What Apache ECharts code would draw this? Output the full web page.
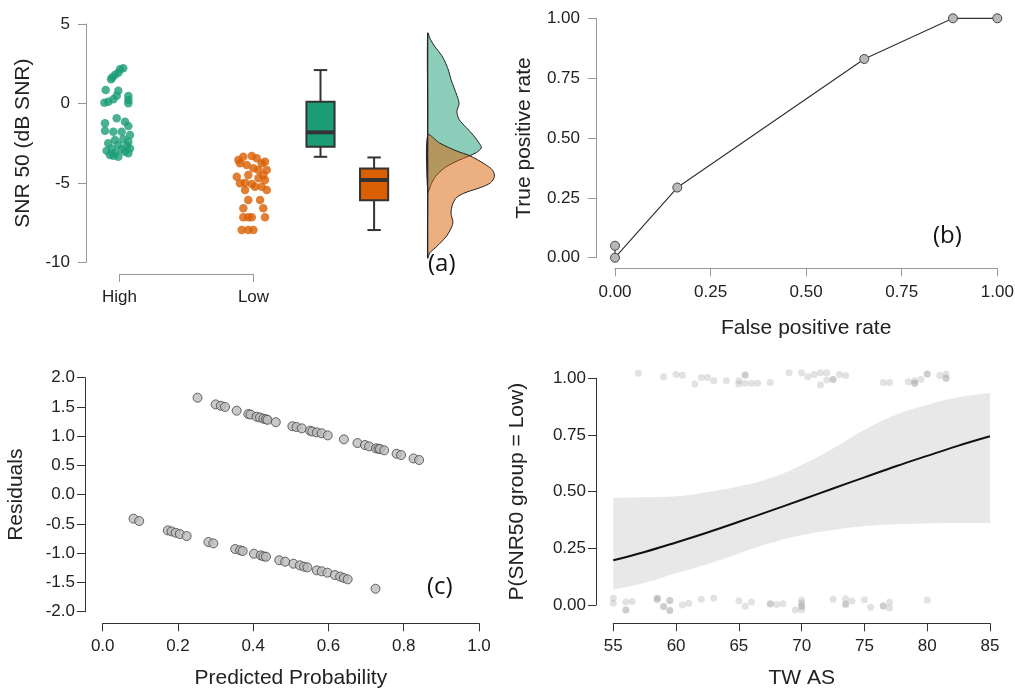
<!DOCTYPE html>
<html><head><meta charset="utf-8">
<script src="https://cdn.jsdelivr.net/npm/echarts@6/dist/echarts.min.js"></script>
<style>html,body{margin:0;padding:0;background:#fff}#c{width:1015px;height:690px}</style>
</head><body><div id="c"></div>
<script>
// ---------- Panel (a) data ----------
const groupCategories = ['High', 'Low'];
const highPoints = [
 [1.028,2.21],[1.004,2.15],[0.991,1.93],[0.966,1.79],[0.946,1.64],[0.937,1.52],
 [0.897,0.84],[0.991,0.80],[0.979,0.48],[0.954,0.26],[0.916,0.11],[0.887,0.04],[1.066,0.47],[1.066,0.21],[1.066,0.01],
 [0.979,-0.94],[0.892,-1.25],[1.041,-1.15],[1.066,-1.42],[0.892,-1.72],[0.954,-1.78],[1.016,-1.78],[1.078,-1.99],
 [0.966,-2.30],[1.028,-2.26],[1.066,-2.41],[0.916,-2.51],[0.991,-2.62],[1.054,-2.68],[0.942,-2.83],[1.016,-2.89],
 [1.078,-2.83],[0.904,-2.98],[0.966,-3.10],[1.041,-3.04],[0.929,-3.25],[0.991,-3.35],[1.066,-3.14],[0.954,-3.30]
];
const lowPoints = [
 [1.924,-3.35],[1.987,-3.31],[2.024,-3.45],[2.086,-3.67],[1.899,-3.77],[1.949,-3.88],[1.999,-4.08],[2.037,-4.19],
 [2.099,-4.19],[1.961,-4.51],[2.073,-4.51],[1.899,-5.03],[1.937,-4.99],[1.987,-5.07],[2.011,-5.24],[2.061,-5.24],
 [2.086,-4.82],[1.961,-6.08],[2.049,-6.08],[1.924,-6.60],[2.073,-6.60],[1.924,-7.17],[1.961,-7.17],[1.987,-7.17],
 [2.086,-7.17],[1.912,-7.97],[1.961,-7.97],[1.999,-7.97],[1.887,-3.56],[2.061,-3.77],[1.875,-4.61],[2.037,-4.71],
 [1.937,-5.45],[2.099,-5.45]
];
// [position, min, q1, median, q3, max]
const highBox = [2.5, -3.36, -2.73, -1.82, 0.10, 2.10];
const lowBox  = [2.9, -7.97, -6.10, -4.82, -4.09, -3.40];
// density: [SNR, density]
const densityHigh = [
 [4.43,0],[4.0,0.011],[3.5,0.030],[3.0,0.053],[2.5,0.068],[2.0,0.079],[1.5,0.087],[1.0,0.098],[0.5,0.109],
 [0.0,0.117],[-0.5,0.109],[-1.0,0.117],[-1.5,0.143],[-2.0,0.170],[-2.5,0.192],[-2.8,0.200],[-3.1,0.181],
 [-3.3,0.155],[-3.6,0.113],[-4.0,0.068],[-4.5,0.034],[-5.0,0.015],[-5.6,0]
];
const densityLow = [
 [-1.99,0],[-2.5,0.045],[-3.0,0.109],[-3.3,0.158],[-3.8,0.211],[-4.2,0.242],[-4.6,0.249],[-5.0,0.234],
 [-5.3,0.196],[-5.6,0.143],[-5.9,0.109],[-6.3,0.094],[-6.9,0.087],[-7.5,0.094],[-8.0,0.083],[-8.4,0.068],
 [-9.0,0.034],[-9.4,0.008],[-9.73,0]
];
const densityBase = 3.3;

// ---------- Panel (b) data ----------
const fpr = [0, 0, 0.163, 0.652, 0.884, 1.0];
const tpr = [0.05, 0, 0.293, 0.830, 1.0, 1.0];

// ---------- Panel (c) data ----------
const residUpper = [
 [0.252,1.658],[0.300,1.544],[0.314,1.52],[0.325,1.50],[0.356,1.436],[0.387,1.379],[0.393,1.37],[0.409,1.333],
 [0.418,1.32],[0.427,1.30],[0.434,1.29],[0.438,1.28],[0.460,1.24],[0.504,1.17],[0.515,1.157],[0.529,1.134],
 [0.551,1.094],[0.557,1.08],[0.569,1.065],[0.582,1.05],[0.598,1.014],[0.641,0.946],[0.677,0.883],[0.697,0.849],
 [0.708,0.826],[0.726,0.792],[0.733,0.786],[0.737,0.78],[0.748,0.758],[0.781,0.70],[0.793,0.678],[0.826,0.62],[0.841,0.593]
];
const residLower = [
 [0.082,-0.41],[0.097,-0.45],[0.173,-0.61],[0.183,-0.627],[0.194,-0.65],[0.205,-0.672],[0.223,-0.707],[0.281,-0.809],
 [0.294,-0.832],[0.352,-0.929],[0.365,-0.95],[0.372,-0.963],[0.402,-1.009],[0.420,-1.037],[0.427,-1.054],[0.434,-1.06],
 [0.469,-1.12],[0.485,-1.145],[0.507,-1.18],[0.524,-1.208],[0.535,-1.23],[0.544,-1.242],[0.569,-1.293],[0.582,-1.31],
 [0.597,-1.333],[0.617,-1.373],[0.631,-1.40],[0.641,-1.424],[0.651,-1.447],[0.725,-1.607]
];

// ---------- Panel (d) data ----------
const twas    = [55, 57.5, 60, 62.5, 65, 67.5, 70, 72.5, 75, 77.5, 80, 82.5, 85];
const fitted  = [0.197,0.234,0.276,0.320,0.367,0.415,0.464,0.514,0.563,0.612,0.658,0.703,0.744];
const ciLower = [0.068,0.098,0.140,0.180,0.227,0.273,0.308,0.331,0.347,0.356,0.360,0.362,0.362];
const ciUpper = [0.472,0.475,0.480,0.499,0.523,0.560,0.618,0.690,0.773,0.838,0.882,0.916,0.935];
const obsLowGroup = [
 [57,1.022],[59,1.007],[60,1.017],[60.5,1.013],[61.5,0.975],[62,1.004],[62.5,1.004],[63,0.989],[64,0.989],
 [65,0.989],[65,0.975],[65.5,1.015],[65.5,1.015],[65.5,0.978],[66,0.978],[66.5,0.978],[67.5,0.982],[69,1.025],
 [70,1.025],[70.5,1.007],[71,1.017],[71.5,1.025],[72,1.025],[71.5,0.970],[72,0.993],[72.5,0.995],[72.5,0.995],
 [73,1.017],[73.5,1.012],[76.5,0.982],[77,0.982],[78.5,0.985],[79,0.978],[79,0.978],[79,0.989],[79.5,0.995],
 [80,1.019],[80,1.019],[81,1.012],[81.5,1.019],[81.5,1.0],[81.5,1.0]
];
const obsHighGroup = [
 [55,0.030],[55,0.008],[56,0.013],[56,-0.022],[56,-0.022],[56.5,0.015],[58.5,0.030],[58.5,0.030],[58.5,0.022],
 [59,-0.007],[59,-0.007],[59.5,0.020],[59.5,0.020],[59.5,-0.024],[59.5,-0.024],[60.5,0.0],[61,0.008],[62,0.025],[63,0.030],
 [65,0.019],[65.5,-0.006],[66,0.013],[67.5,0.006],[67.5,0.004],[68,0.002],[68.5,0.006],[69.5,-0.022],[70,0.022],
 [70,0.009],[70,-0.004],[70,-0.006],[70,-0.022],[72.5,0.025],[73.5,0.028],[73.5,0.004],[73.5,0.002],[74,0.018],
 [75,0.023],[75.5,-0.010],[76.5,-0.005],[76.5,-0.003],[77,0.012],[77,-0.013],[80,0.022]
];

// ---------- build ----------
const FONT = 'Liberation Sans, Arial, sans-serif';
const TXT = '#222';
const GREEN = '#1b9e77', ORANGE = '#d95f02';
const zip = (a, b) => a.map((v, i) => [v, b[i]]);

function axisStyle(lineColor, fontSize, margin, formatter) {
  const lab = { color: TXT, fontSize: fontSize, fontFamily: FONT, margin: margin };
  if (formatter) lab.formatter = formatter;
  return {
    axisLine: { show: true, onZero: false, lineStyle: { color: lineColor, width: 1 } },
    axisTick: { show: true, length: 8, alignWithLabel: true, lineStyle: { color: lineColor, width: 1 } },
    axisLabel: lab,
    splitLine: { show: false },
    nameTextStyle: { color: TXT, fontSize: 21, fontFamily: FONT }
  };
}

function boxRender(color) {
  return function (params, api) {
    const x = api.value(0);
    const lo = api.coord([x, api.value(1)]);
    const q1 = api.coord([x, api.value(2)]);
    const md = api.coord([x, api.value(3)]);
    const q3 = api.coord([x, api.value(4)]);
    const hi = api.coord([x, api.value(5)]);
    const hw = api.size([0.21, 0])[0] / 2;
    const cw = api.size([0.1, 0])[0] / 2;
    const ls = { stroke: '#333', lineWidth: 2 };
    return { type: 'group', children: [
      { type: 'line', shape: { x1: lo[0], y1: lo[1], x2: lo[0], y2: q1[1] }, style: ls },
      { type: 'line', shape: { x1: hi[0], y1: hi[1], x2: hi[0], y2: q3[1] }, style: ls },
      { type: 'line', shape: { x1: lo[0] - cw, y1: lo[1], x2: lo[0] + cw, y2: lo[1] }, style: ls },
      { type: 'line', shape: { x1: hi[0] - cw, y1: hi[1], x2: hi[0] + cw, y2: hi[1] }, style: ls },
      { type: 'rect', shape: { x: q3[0] - hw, y: q3[1], width: 2 * hw, height: q1[1] - q3[1] },
        style: { fill: color, stroke: '#333', lineWidth: 2 } },
      { type: 'line', shape: { x1: md[0] - hw, y1: md[1], x2: md[0] + hw, y2: md[1] },
        style: { stroke: '#333', lineWidth: 4 } }
    ]};
  };
}

function densRender(dens, fill) {
  return function (params, api) {
    const scale = 2.0;
    const pts = dens.map(d => api.coord([densityBase + d[1] * scale, d[0]]));
    const mid = api.coord([densityBase, (dens[0][0] + dens[dens.length - 1][0]) / 2]);
    return { type: 'polygon', shape: { points: pts.concat([mid]), smooth: 0.3 },
        style: { fill: fill, stroke: '#222', lineWidth: 1 } };
  };
}

function baseRender(params, api) {
  const t = api.coord([densityBase, 4.41]);
  const b = api.coord([densityBase, -9.75]);
  return { type: 'line', shape: { x1: t[0], y1: t[1], x2: b[0], y2: b[1] }, style: { stroke: '#222', lineWidth: 1.2 } };
}

const option = {
  animation: false,
  backgroundColor: '#fff',
  grid: [
    { left: 86, top: 24, width: 435.5, height: 238.3, outerBoundsMode: 'none' },
    { left: 119.5, top: 24, width: 134, height: 250, outerBoundsMode: 'none' },
    { left: 615, top: 18.3, width: 382.3, height: 239.4, outerBoundsMode: 'none' },
    { left: 102.7, top: 377.7, width: 376.3, height: 234, outerBoundsMode: 'none' },
    { left: 613.3, top: 378.3, width: 376.7, height: 226.7, outerBoundsMode: 'none' }
  ],
  xAxis: [
    { gridIndex: 0, type: 'value', min: 0.75, max: 4.0, show: false },
    Object.assign({ gridIndex: 1, type: 'category', data: groupCategories, boundaryGap: false, position: 'bottom' },
      axisStyle('#999', 17, 15)),
    Object.assign({ gridIndex: 2, type: 'value', min: 0, max: 1, interval: 0.25, offset: 10.6,
      name: 'False positive rate', nameLocation: 'middle', nameGap: 49 }, axisStyle('#999', 17, 16, v => v.toFixed(2))),
    Object.assign({ gridIndex: 3, type: 'value', min: 0, max: 1, interval: 0.2, offset: 11.6,
      name: 'Predicted Probability', nameLocation: 'middle', nameGap: 44 }, axisStyle('#333', 17, 15, v => v.toFixed(1))),
    Object.assign({ gridIndex: 4, type: 'value', min: 55, max: 85, interval: 5, offset: 18.3,
      name: 'TW AS', nameLocation: 'middle', nameGap: 44 }, axisStyle('#333', 17, 15))
  ],
  yAxis: [
    Object.assign({ gridIndex: 0, type: 'value', min: -10, max: 5, interval: 5,
      name: 'SNR 50 (dB SNR)', nameLocation: 'middle', nameGap: 52 }, axisStyle('#999', 17, 16)),
    { gridIndex: 1, type: 'value', min: -10, max: 5, show: false },
    Object.assign({ gridIndex: 2, type: 'value', min: 0, max: 1, interval: 0.25, offset: 19,
      name: 'True positive rate', nameLocation: 'middle', nameGap: 61 }, axisStyle('#999', 17, 16, v => v.toFixed(2))),
    Object.assign({ gridIndex: 3, type: 'value', min: -2, max: 2, interval: 0.5, offset: 17.7,
      name: 'Residuals', nameLocation: 'middle', nameGap: 58 }, axisStyle('#333', 17, 10, v => v.toFixed(1))),
    Object.assign({ gridIndex: 4, type: 'value', min: 0, max: 1, interval: 0.25, offset: 17.3,
      name: 'P(SNR50 group = Low)', nameLocation: 'middle', nameGap: 68 }, axisStyle('#333', 17, 10, v => v.toFixed(2)))
  ],
  series: [
    // (a)
    { type: 'scatter', xAxisIndex: 0, yAxisIndex: 0, data: highPoints, symbolSize: 8.5,
      itemStyle: { color: GREEN }, clip: false },
    { type: 'scatter', xAxisIndex: 0, yAxisIndex: 0, data: lowPoints, symbolSize: 8.5,
      itemStyle: { color: ORANGE }, clip: false },
    { type: 'custom', xAxisIndex: 0, yAxisIndex: 0, data: [highBox], renderItem: boxRender(GREEN), clip: false },
    { type: 'custom', xAxisIndex: 0, yAxisIndex: 0, data: [lowBox], renderItem: boxRender(ORANGE), clip: false },
    { type: 'custom', xAxisIndex: 0, yAxisIndex: 0, data: [0], renderItem: densRender(densityHigh, 'rgba(27,158,119,0.5)'), clip: false },
    { type: 'custom', xAxisIndex: 0, yAxisIndex: 0, data: [0], renderItem: densRender(densityLow, 'rgba(217,95,2,0.5)'), clip: false },
    { type: 'custom', xAxisIndex: 0, yAxisIndex: 0, data: [0], renderItem: baseRender, clip: false },
    // (b)
    { type: 'line', xAxisIndex: 2, yAxisIndex: 2, data: zip(fpr, tpr), symbol: 'circle', symbolSize: 9,
      lineStyle: { color: '#333', width: 1.2 }, itemStyle: { color: '#b8b8b8', borderColor: '#444', borderWidth: 1 }, clip: false },
    // (c)
    { type: 'scatter', xAxisIndex: 3, yAxisIndex: 3, data: residUpper, symbolSize: 9,
      itemStyle: { color: '#bcbcbc', borderColor: '#444', borderWidth: 1 } },
    { type: 'scatter', xAxisIndex: 3, yAxisIndex: 3, data: residLower, symbolSize: 9,
      itemStyle: { color: '#bcbcbc', borderColor: '#444', borderWidth: 1 } },
    // (d) confidence band: grey area under upper bound, white area under lower bound
    { type: 'line', xAxisIndex: 4, yAxisIndex: 4, data: zip(twas, ciUpper), smooth: true, z: 1,
      symbol: 'none', lineStyle: { width: 0, opacity: 0 }, areaStyle: { color: '#e8e8e8', opacity: 1, origin: 'start' } },
    { type: 'line', xAxisIndex: 4, yAxisIndex: 4, data: zip(twas, ciLower), smooth: true, z: 1.5,
      symbol: 'none', lineStyle: { width: 0, opacity: 0 }, areaStyle: { color: '#ffffff', opacity: 1, origin: 'start' } },
    { type: 'line', xAxisIndex: 4, yAxisIndex: 4, data: zip(twas, fitted), smooth: 0.4, symbol: 'none', z: 3,
      lineStyle: { color: '#111', width: 2 } },
    { type: 'scatter', xAxisIndex: 4, yAxisIndex: 4, data: obsLowGroup, symbolSize: 7, clip: false, z: 4,
      itemStyle: { color: 'rgba(150,150,150,0.35)' } },
    { type: 'scatter', xAxisIndex: 4, yAxisIndex: 4, data: obsHighGroup, symbolSize: 7, clip: false, z: 4,
      itemStyle: { color: 'rgba(150,150,150,0.35)' } }
  ],
  graphic: [
    { type: 'text', left: 428, top: 252, style: { text: '(a)', font: '24px "Open Sans", sans-serif', fill: '#111' } },
    { type: 'text', left: 933, top: 224, style: { text: '(b)', font: '24px "Open Sans", sans-serif', fill: '#111' } },
    { type: 'text', left: 427, top: 575, style: { text: '(c)', font: '24px "Open Sans", sans-serif', fill: '#111' } },
    { type: 'text', left: 932, top: 566, style: { text: '(d)', font: '24px "Open Sans", sans-serif', fill: '#111' } }
  ]
};
const chart = echarts.init(document.getElementById('c'), null, { renderer: 'canvas' });
chart.setOption(option);
</script></body></html>
